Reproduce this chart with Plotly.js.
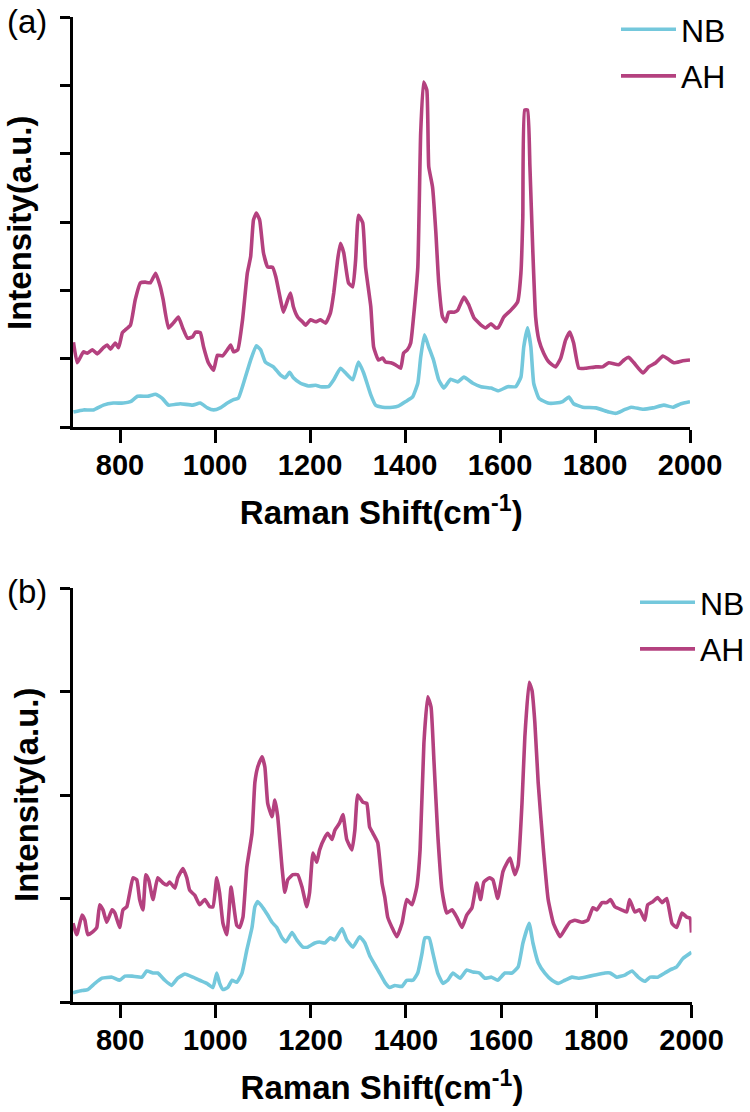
<!DOCTYPE html>
<html>
<head>
<meta charset="utf-8">
<script src="https://cdn.plot.ly/plotly-3.0.1.min.js"></script>
<style>html,body{margin:0;padding:0;background:#fff;}#chart{width:750px;height:1112px;}</style>
</head>
<body>
<div id="chart"></div>
<script>
// ---- Panel (a) ----
const xA_AH = [702,710,723,731,742,752,765,773,780,790,797,805,811,822,832,843,853,864,875,885,891,902,912,923,932,942,953,959,969,976,986,997,1005,1016,1026,1033,1039,1048,1058,1068,1075,1081,1087,1094,1102,1111,1121,1128,1138,1144,1153,1159,1165,1174,1184,1191,1201,1212,1222,1233,1243,1250,1258,1264,1271,1281,1290,1296,1302,1311,1317,1328,1334,
  1344,1353,1359,1370,1380,1391,1397,1405,1412,1418,1427,1433,1439,1446,1450,1458,1465,1471,1479,1486,1492,1503,1511,1524,1534,1545,1560,1570,1581,1591,1597,1608,1623,1637,1644,1648,1652,1658,1663,1669,1675,1682,1692,1703,1717,1728,1738,1747,1755,1766,1781,1802,1816,1829,1850,1861,1871,1882,1901,1913,1928,1943,1953,1966,1985,2000];
const yA_AH = [1.24,0.94,1.10,1.08,1.13,1.07,1.16,1.20,1.14,1.23,1.16,1.38,1.42,1.49,1.86,2.11,2.12,2.11,2.25,2.05,1.86,1.45,1.52,1.61,1.45,1.30,1.32,1.39,1.38,1.17,0.94,0.83,1.05,1.04,1.13,1.20,1.10,1.13,1.57,2.25,2.49,3.03,3.13,3.03,2.55,2.34,2.34,2.20,1.86,1.68,1.86,1.96,1.76,1.61,1.54,1.49,1.57,1.54,1.57,1.52,1.67,1.96,2.44,2.69,2.55,2.11,2.05,2.44,3.10,2.99,2.34,1.76,1.17,
  0.98,1.01,0.95,0.94,0.91,0.86,1.08,1.13,1.23,1.61,2.34,4.30,5.05,4.93,3.81,3.51,2.84,2.11,1.61,1.54,1.68,1.68,1.71,1.90,1.79,1.60,1.49,1.45,1.51,1.45,1.46,1.61,1.71,1.83,2.25,3.07,4.64,4.64,3.81,2.59,1.61,1.27,1.08,0.95,0.88,1.01,1.27,1.39,1.23,0.86,0.86,0.88,0.88,0.94,0.91,0.98,1.02,0.94,0.79,0.88,0.94,1.04,1.00,0.94,0.97,0.98];
const xA_NB = [702,723,744,765,786,807,822,837,858,875,889,902,927,953,969,984,997,1011,1026,1039,1049,1060,1075,1087,1096,1106,1123,1138,1148,1157,1165,1180,1197,1212,1222,1239,1250,1264,1275,1290,1302,1313,1328,1338,1353,1374,1387,1401,1416,1427,1433,1441,1450,1460,1471,1482,1496,1511,1524,1543,1560,1581,1597,1616,1633,1644,1650,1658,1665,1671,1682,1701,1717,1732,1745,1755,1774,1802,1829,1844,1861,1876,1901,1922,1945,1964,1981,2000];
const yA_NB = [0.22,0.25,0.25,0.32,0.35,0.35,0.37,0.45,0.45,0.48,0.42,0.32,0.34,0.32,0.35,0.28,0.25,0.28,0.35,0.40,0.42,0.64,0.98,1.19,1.13,0.95,0.88,0.76,0.72,0.80,0.72,0.64,0.60,0.61,0.59,0.59,0.69,0.86,0.79,0.69,0.95,0.79,0.47,0.32,0.29,0.29,0.31,0.37,0.44,0.64,1.02,1.35,1.17,0.98,0.69,0.57,0.70,0.66,0.73,0.64,0.59,0.57,0.53,0.59,0.59,0.73,1.17,1.45,1.17,0.64,0.42,0.35,0.35,0.37,0.44,0.34,0.29,0.28,0.22,0.20,0.25,0.29,0.26,0.28,0.32,0.29,0.34,0.37];

// ---- Panel (b) ----
const xB_AH = [701,709,720,726,732,743,751,757,764,772,783,789,799,806,814,820,827,835,841,848,854,860,869,879,890,898,904,915,921,932,940,946,957,967,978,988,995,1003,1009,1016,1024,1033,1037,1045,1051,1058,1066,1077,1083,1089,1098,1104,1110,1119,1125,1131,1140,1146,1152,1163,1173,1182,1192,1198,1205,1213,1219,1230,1236,1245,1251,1261,1268,1276,1287,1293,1299,1310,1318,1324,1331,
  1341,1350,1356,1362,1371,1381,1392,1402,1413,1423,1430,1438,1446,1453,1459,1467,1476,1486,1497,1507,1518,1528,1539,1549,1557,1564,1576,1583,1593,1604,1612,1619,1629,1636,1644,1650,1659,1665,1671,1678,1689,1699,1710,1724,1734,1744,1755,1770,1782,1793,1801,1812,1822,1830,1839,1853,1864,1870,1881,1891,1902,1908,1919,1929,1938,1948,1959,1969,1980,1990,1997,2000];
const yB_AH = [0.76,0.65,0.84,0.79,0.65,0.68,0.72,0.94,0.89,0.77,0.89,0.86,0.72,0.89,0.92,1.05,1.20,1.18,0.99,0.89,1.23,1.18,0.99,1.20,1.15,1.13,1.16,1.10,1.20,1.29,1.20,1.08,1.03,0.94,0.99,0.92,0.92,1.20,1.05,0.76,0.65,1.11,0.99,0.74,0.72,0.82,1.30,1.63,2.12,2.27,2.37,2.27,1.92,1.79,1.95,1.79,1.30,1.06,1.18,1.23,1.23,1.11,0.92,1.06,1.44,1.35,1.47,1.59,1.63,1.57,1.66,1.73,1.81,1.57,1.47,1.66,2.00,1.93,1.92,1.69,1.63,
  1.54,1.15,1.01,0.82,0.72,0.63,0.76,0.99,0.94,1.11,1.47,2.50,2.95,2.85,2.34,1.63,1.08,0.86,0.89,0.82,0.72,0.84,0.91,1.15,0.99,1.16,1.20,1.18,1.00,1.26,1.34,1.39,1.23,1.32,1.92,2.56,3.09,3.01,2.70,2.12,1.47,0.99,0.76,0.63,0.70,0.77,0.79,0.77,0.79,0.91,0.89,0.96,0.96,0.99,0.92,0.89,0.87,0.99,0.87,0.89,0.79,0.94,0.97,1.01,0.96,1.00,0.76,0.72,0.86,0.82,0.81,0.67];
const xB_NB = [701,720,732,747,762,783,799,810,825,846,856,869,879,894,908,921,936,953,967,982,995,1003,1009,1016,1026,1035,1045,1056,1066,1077,1083,1089,1100,1110,1119,1129,1140,1148,1161,1171,1184,1194,1209,1219,1230,1241,1251,1266,1276,1289,1303,1314,1324,1335,1345,1356,1366,1377,1392,1402,1415,1425,1434,1440,1449,1457,1467,1478,1488,1499,1514,1528,1541,1555,1566,1580,1593,1608,1623,1636,1646,1659,1667,1678,1692,1707,1720,1734,1749,1762,1776,1797,1818,1829,1843,1860,1875,1888,1902,1913,1929,1944,1955,1969,1982,2000];
const yB_NB = [0.09,0.11,0.12,0.18,0.23,0.24,0.21,0.25,0.25,0.24,0.30,0.28,0.28,0.21,0.16,0.23,0.27,0.24,0.21,0.18,0.14,0.28,0.18,0.12,0.14,0.21,0.19,0.28,0.50,0.72,0.92,0.97,0.91,0.84,0.77,0.72,0.62,0.58,0.67,0.60,0.53,0.53,0.57,0.58,0.57,0.62,0.60,0.71,0.60,0.53,0.63,0.57,0.45,0.36,0.28,0.19,0.14,0.16,0.15,0.21,0.21,0.28,0.47,0.62,0.62,0.47,0.28,0.18,0.21,0.28,0.23,0.31,0.29,0.28,0.23,0.24,0.21,0.28,0.28,0.34,0.57,0.76,0.57,0.38,0.28,0.21,0.18,0.21,0.24,0.23,0.24,0.26,0.28,0.28,0.24,0.26,0.30,0.24,0.20,0.24,0.24,0.28,0.31,0.34,0.42,0.48];

const xTickVals = [800,1000,1200,1400,1600,1800,2000];
const xTickText = ['800','1000','1200','1400','1600','1800','2000'];
const seriesNames = ['NB','AH'];
const colNB = '#74C8DC';
const colAH = '#B4417F';
const xTitle = 'Raman Shift(cm<sup>-1</sup>)';
const yTitle = 'Intensity(a.u.)';

const FONT = 'Liberation Sans, Arial, sans-serif';
const lw = 3.6;

function tr(x, y, name, color, xa, ya, leg, grp) {
  return {x: x, y: y, name: name, type: 'scatter', mode: 'lines',
    line: {color: color, width: lw, shape: 'spline', smoothing: 0.4},
    xaxis: xa, yaxis: ya, legend: leg, legendgroup: grp, hoverinfo: 'skip'};
}

const data = [
  tr(xA_NB, yA_NB, seriesNames[0], colNB, 'x', 'y', 'legend', 'a1'),
  tr(xA_AH, yA_AH, seriesNames[1], colAH, 'x', 'y', 'legend', 'a2'),
  tr(xB_NB, yB_NB, seriesNames[0], colNB, 'x2', 'y2', 'legend2', 'b1'),
  tr(xB_AH, yB_AH, seriesNames[1], colAH, 'x2', 'y2', 'legend2', 'b2')
];

function xax(dom, anchor) {
  return {domain: dom, anchor: anchor, range: [700, 2000], showgrid: false, zeroline: false,
    showline: true, linecolor: '#000', linewidth: 3, mirror: false,
    ticks: 'outside', ticklen: 13, tickwidth: 3, tickcolor: '#000',
    tickvals: xTickVals, ticktext: xTickText, ticklabelstandoff: -3,
    tickfont: {family: FONT, size: 29, color: '#000', weight: 'bold'},
    title: {text: xTitle, standoff: 22, font: {family: FONT, size: 33, color: '#000', weight: 'bold'}},
    fixedrange: true};
}
function yax(dom, anchor, top) {
  return {domain: dom, anchor: anchor, range: [0, top], showgrid: false, zeroline: false,
    showline: true, linecolor: '#000', linewidth: 3,
    ticks: 'outside', ticklen: 10, tickwidth: 3, tickcolor: '#000',
    tick0: 0, dtick: 1, showticklabels: false, fixedrange: true};
}

const H = 1112, W = 750;
const legFont = {family: FONT, size: 32, color: '#000'};
const layout = {
  width: W, height: H,
  margin: {l: 0, r: 0, t: 0, b: 0},
  paper_bgcolor: '#fff', plot_bgcolor: 'rgba(0,0,0,0)',
  showlegend: true,
  xaxis: xax([72.5/W, 690/W], 'y'),
  yaxis: yax([1 - 427/H, 1 - 17/H], 'x', 6),
  xaxis2: xax([72.5/W, 691.5/W], 'y2'),
  yaxis2: yax([1 - 1002/H, 1 - 588/H], 'x2', 4),
  legend: {x: 616/W, y: 1 - 2/H, xanchor: 'left', yanchor: 'top', bgcolor: 'rgba(0,0,0,0)',
    font: legFont, itemwidth: 55, tracegroupgap: 2, traceorder: 'grouped'},
  legend2: {x: 635/W, y: 1 - 575/H, xanchor: 'left', yanchor: 'top', bgcolor: 'rgba(0,0,0,0)',
    font: legFont, itemwidth: 55, tracegroupgap: 2, traceorder: 'grouped'},
  annotations: [
    {text: yTitle, xref: 'paper', yref: 'paper', x: 20/W, y: 1 - 223/H, textangle: -90,
      showarrow: false, xanchor: 'center', yanchor: 'middle',
      font: {family: FONT, size: 33, color: '#000', weight: 'bold'}},
    {text: yTitle, xref: 'paper', yref: 'paper', x: 26/W, y: 1 - 795/H, textangle: -90,
      showarrow: false, xanchor: 'center', yanchor: 'middle',
      font: {family: FONT, size: 33, color: '#000', weight: 'bold'}},
    {text: '(a)', xref: 'paper', yref: 'paper', x: 5/W, y: 1 - 22/H, showarrow: false,
      xanchor: 'left', yanchor: 'middle', font: {family: FONT, size: 33, color: '#000'}},
    {text: '(b)', xref: 'paper', yref: 'paper', x: 5/W, y: 1 - 591/H, showarrow: false,
      xanchor: 'left', yanchor: 'middle', font: {family: FONT, size: 33, color: '#000'}}
  ]
};

Plotly.newPlot('chart', data, layout, {staticPlot: true, displayModeBar: false});
</script>
</body>
</html>
